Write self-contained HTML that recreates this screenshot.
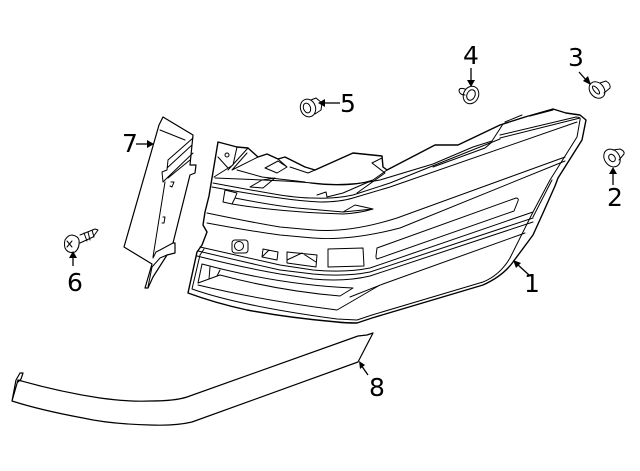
<!DOCTYPE html>
<html><head><meta charset="utf-8"><style>
html,body{margin:0;padding:0;background:#fff}
svg{display:block}
text{font-family:"DejaVu Sans",sans-serif;font-size:25px;fill:#000;text-anchor:middle}
</style></head><body>
<svg width="640" height="471" viewBox="0 0 640 471" xmlns="http://www.w3.org/2000/svg">
<rect width="640" height="471" fill="#fff"/>
<g fill="none" stroke="#000" stroke-width="1" stroke-linejoin="round" stroke-linecap="round">
<!-- lamp outer -->
<path stroke-width="1.4" d="M188 293 L197 252 L202 245 L207 232 L203 225 L205 212 L209 196 L212 178 L218 142 L237 147 L248 148 L258 157 L267 154 L278 159 L285 157 L305 167 L315 170 L353 153 L382 156 L383 167 L387 170 L435 145 L458 145 L500 125 L525 117 L553 109 L566 113 L580 115 L586 120 L582 140 L558 178 L555 186 L543 213 L533 235 L513 262 Q503 276 483 285 L372 318 L357 323 Q345 323 337 322 Q290 318 247 310 Q215 303 188 293 Z"/>
<!-- inner contour -->
<path d="M192 289 L200 255 L204 249 M192 289 Q240 306 337 319 L357 320 L372 315 L483 282 Q500 275 510 258 L533 212 L550 180 L577 137 L580 120 Q581 117 576 117 L500 135"/>
<path d="M533 217 L552 180 M500 138 L580 118"/>
<!-- top lens lines -->
<path d="M215 178 L263 180 Q290 181 313 183 Q345 187 380 180 L433 164 L473 147 L492 141 L503 124 L525 117"/>
<path d="M213 183 Q250 190 280 195 Q300 198 313 198 Q335 199 353 195 L390 183 L500 139"/>
<path d="M212 187 Q250 194 280 198 Q300 201 320 202 Q340 202 353 198 L390 187 L577 122"/>
<path d="M433 167 L485 148 L492 142"/>
<!-- second band -->
<path d="M207 213 Q250 222 280 227 L313 230 Q350 233 397 218 L565 157"/>
<path d="M207 223 Q250 231 280 235 L313 238 Q350 241 400 228 L565 161"/>
<!-- DRL strip -->
<path d="M225 190 L237 193 L235 198 Q270 205 297 208 L343 212 L355 205 L373 209 L343 212 M223 202 L225 190 M223 202 L232 204 L235 198 M232 204 Q280 212 343 214 Q360 213 373 209"/>
<!-- mid window strip -->
<path d="M377 248 L516 198 Q519 198 518 201 L514 211 L377 259 Q376 259 376 256 Z"/>
<!-- lower band -->
<path d="M200 247 Q240 256 280 265 L313 270 Q345 273 370 268 L533 212"/>
<path d="M198 251 Q240 261 280 270 L313 274 Q345 277 370 272 L533 218"/>
<path d="M197 256 Q240 267 280 274 L313 279 Q345 282 370 276 L533 222"/>
<path d="M383 284 L525 233 M350 297 L383 284"/>
<!-- lower box -->
<path d="M202 264 Q280 285 353 288 L340 296 Q280 291 220 275 L198 283 L202 264"/>
<path d="M198 285 Q260 300 337 310 L380 285"/>
<path d="M210 267 L209 279 M220 270 L217 276"/>
<!-- sensors -->
<rect x="232" y="240" width="16" height="13" rx="3"/>
<circle cx="239" cy="246" r="4.5"/>
<path d="M263 249 L278 252 L277 260 L262 257 Z M263 256 L269 250"/>
<path d="M287 252 L317 255 L316 267 L287 263 Z M287 260 L302 253 L316 262"/>
<path d="M328 249 L363 248 L364 266 L328 267 Z"/>
<!-- housing details -->
<path d="M237 147 L233 165 L214 177 M248 148 L228 170 M247 153 L232 170 L258 157 M218 157 L228 168"/>
<circle cx="227" cy="155" r="2"/>
<path d="M265 168 L278 161 L287 167 L277 173 L270 170 L265 168 M290 167 L308 173 L315 170 M278 159 L287 167"/>
<path d="M237 170 L262 177 L305 182"/>
<path d="M250 187 L262 180 L275 178 L263 188 Z"/>
<path d="M382 158 L372 163 L385 173 L357 193 M387 170 L373 180 Q350 188 310 183 M373 180 L343 193 L327 197 L326 192 L317 195"/>
<path d="M505 122 L522 115 M530 116 L553 110"/>
<!-- part 7 -->
<path stroke-width="1.2" d="M159 125 L163 117 L193 135 L190 165 L196 165 L195 173 L190 175 L173 243 L175 243 L175 253 L167 255 L153 277 L148 288 L145 288 L152 264 L124 247 Z"/>
<path d="M160 130 L185 140 M193 138 L168 160 L167 170 L162 172 L163 182 L167 178 L193 153 M167 168 L192 145 M168 178 L190 160"/>
<path d="M165 182 L153 257 M173 243 L160 250 L156 252 L153 258 M171 182 L174 182 L172 187 L170 186 M163 217 L165 217 L164 223 L162 223 M167 255 L160 258 L152 267 L148 287"/>
<!-- part 8 -->
<path stroke-width="1.2" d="M12 401 L16 380 L20 373 L23 373 L21 379 L18 382 M18 380 Q60 392 100 398 Q130 402 150 401 Q175 401 187 397 L358 336 L367 335 L373 333 L358 362 L192 422 Q175 426 150 425 Q110 424 83 418 Q40 410 12 401 Z"/>
<!-- fastener 2 -->
<ellipse cx="612" cy="158" rx="7.5" ry="9.5" transform="rotate(-35 612 158)"/>
<ellipse cx="612" cy="158" rx="3" ry="4" transform="rotate(-35 612 158)"/>
<path d="M613 150 L620 149 Q625 151 624 154 L619 160"/>
<!-- fastener 3 -->
<ellipse cx="597" cy="90" rx="7" ry="9" transform="rotate(-40 597 90)"/>
<ellipse cx="596" cy="90" rx="2" ry="5" transform="rotate(-40 596 90)"/>
<path d="M600 83 L606 81 Q611 84 610 88 L604 93"/>
<!-- fastener 4 -->
<ellipse cx="471" cy="95" rx="7.5" ry="9" transform="rotate(25 471 95)"/>
<ellipse cx="471" cy="95" rx="4" ry="5.5" transform="rotate(25 471 95)"/>
<path d="M465 89 Q459 87 459 91 Q460 95 465 95"/>
<!-- fastener 5 -->
<ellipse cx="308" cy="108" rx="7.5" ry="9" transform="rotate(-20 308 108)"/>
<ellipse cx="307" cy="108" rx="3.5" ry="5" transform="rotate(-20 307 108)"/>
<path d="M311 100 L316 98 L322 103 L321 110 L315 114"/>
<!-- screw 6 -->
<path d="M65 240 Q68 235 72 235 Q78 236 79 240 Q80 248 75 252 Q68 254 65 248 Q64 244 65 240 Z"/>
<path d="M67 241 L72 247 M72 241 L67 247"/>
<path d="M80 235 L95 229 L98 230 L93 237 L80 243 M84 233 L87 241 M88 232 L90 240 M92 230 L94 237"/>
</g>
<!-- leaders -->
<g stroke="#000" stroke-width="1.3" fill="none">
<path d="M529 275 L517 264"/>
<path d="M613 185 L613 172"/>
<path d="M579 72 L587 81"/>
<path d="M471 68 L471 82"/>
<path d="M340 103 L324 103"/>
<path d="M73 266 L73 256"/>
<path d="M136 144 L149 144"/>
<path d="M368 375 L361 365"/>
</g>
<g fill="#000" stroke="none">
<polygon points="513,260 521,263 516,268"/>
<polygon points="613,167 617,174 609,174"/>
<polygon points="591,85 583,81 588,76"/>
<polygon points="471,87 467,80 475,80"/>
<polygon points="318,103 325,99 325,107"/>
<polygon points="73,251 77,258 69,258"/>
<polygon points="154,144 147,140 147,148"/>
<polygon points="359,361 365,365 360,369"/>
</g>
<text x="532" y="292">1</text>
<text x="615" y="206">2</text>
<text x="576" y="66">3</text>
<text x="471" y="64">4</text>
<text x="348" y="112">5</text>
<text x="75" y="291">6</text>
<text x="130" y="152">7</text>
<text x="377" y="396">8</text>
</svg>
</body></html>
